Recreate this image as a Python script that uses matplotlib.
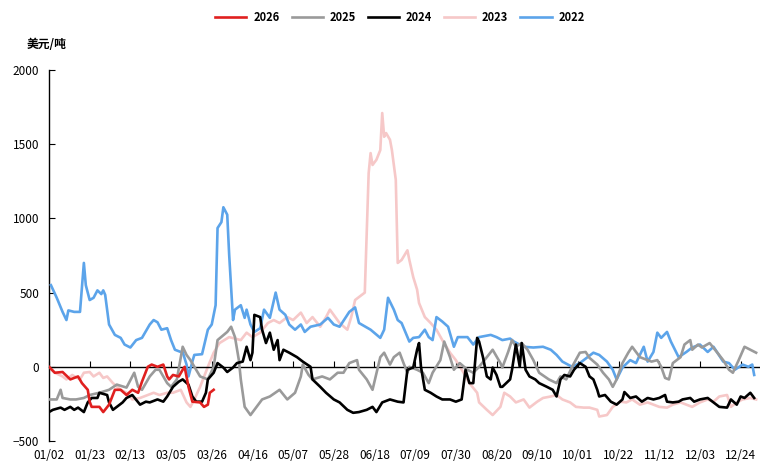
"""Year-over-year spread chart, 2022-2026 (USD/t)."""
import matplotlib
matplotlib.use("Agg")
import matplotlib.pyplot as plt

plt.rcParams['font.family'] = ['Noto Sans CJK SC', 'DejaVu Sans']

# x = days since 01/02 (leap-year calendar), y = USD/t
tick_labels = ['01/02', '01/23', '02/13', '03/05', '03/26', '04/16', '05/07',
               '05/28', '06/18', '07/09', '07/30', '08/20', '09/10', '10/01',
               '10/22', '11/12', '12/03', '12/24']

days_2026 = [0, 3, 7, 11, 15, 17, 20, 21, 22, 26, 28, 31, 34, 37, 40, 43, 46,
             48, 51, 53, 56, 59, 61, 62, 64, 67, 69, 70, 72, 74, 78, 80, 82,
             83, 85]
vals_2026 = [0, -40, -35, -85, -65, -110, -155, -235, -270, -270, -305, -255,
             -155, -155, -190, -155, -175, -100, 0, 15, 0, 15, -65, -85, -55,
             -65, -20, 0, -135, -235, -240, -270, -255, -175, -155]

days_2025 = [0, 4, 6, 7, 11, 14, 18, 21, 26, 31, 35, 40, 43, 44, 46, 48, 52,
             55, 57, 59, 61, 63, 66, 69, 71, 73, 78, 82, 85, 87, 92, 94, 96,
             98, 99, 101, 104, 106, 110, 114, 119, 123, 127, 130, 131, 134,
             136, 141, 145, 149, 152, 155, 159, 160, 164, 167, 171, 173, 176,
             178, 181, 183, 185, 186, 190, 193, 196, 198, 202, 204, 207, 209,
             212, 216, 219, 222, 226, 229, 233, 234, 237, 239, 241, 244, 247,
             250, 253, 258, 262, 264, 267, 270, 274, 277, 279, 283, 286, 289,
             291, 293, 296, 299, 301, 305, 309, 311, 314, 316, 318, 320, 322,
             326, 328, 331, 332, 335, 337, 341, 345, 348, 351, 353, 356, 359,
             362, 365]
vals_2025 = [-220, -220, -155, -210, -220, -220, -210, -190, -175, -155, -120,
             -140, -65, -40, -135, -155, -65, -20, -20, -65, -110, -135, -85,
             135, 80, 45, -65, -85, 0, 180, 235, 270, 200, 45, -85, -270, -325,
             -290, -220, -200, -155, -220, -175, -65, 15, -55, -85, -65, -85,
             -40, -40, 25, 45, -20, -85, -155, 65, 95, 15, 65, 95, 25, -40, 0,
             -20, -40, -110, -40, 45, 170, 65, -20, 25, -20, -40, 0, 65, 115,
             25, -5, 100, 180, 135, 160, 115, 45, -40, -85, -110, -65, -85, 0,
             95, 100, 60, 15, -40, -85, -135, -85, 25, 95, 135, 65, 45, 35, 45,
             0, -75, -85, 25, 65, 150, 180, 115, 150, 130, 160, 95, 45, -20,
             -40, 45, 135, 115, 95]

days_2024 = [0, 2, 6, 8, 11, 13, 15, 18, 20, 22, 25, 26, 30, 31, 33, 35, 38,
             40, 43, 47, 50, 52, 56, 59, 61, 64, 67, 69, 72, 74, 76, 79, 81,
             82, 85, 87, 90, 92, 95, 97, 100, 102, 104, 105, 106, 109, 110,
             112, 114, 116, 118, 119, 121, 124, 128, 131, 135, 136, 140, 143,
             147, 150, 154, 157, 160, 164, 167, 169, 172, 176, 180, 183, 185,
             188, 190, 191, 192, 194, 197, 200, 203, 207, 210, 213, 215, 217,
             219, 221, 222, 224, 226, 228, 229, 231, 233, 234, 238, 239, 241,
             243, 244, 246, 248, 251, 253, 257, 260, 262, 264, 266, 269, 271,
             274, 277, 279, 281, 283, 284, 287, 290, 293, 296, 297, 300, 303,
             306, 309, 312, 315, 318, 319, 322, 325, 327, 331, 333, 336, 340,
             343, 346, 350, 352, 355, 357, 359, 362, 364]
vals_2024 = [-305, -290, -275, -290, -270, -290, -275, -305, -240, -210, -210,
             -175, -190, -240, -290, -270, -240, -210, -190, -255, -235, -240,
             -220, -235, -200, -135, -100, -85, -120, -200, -235, -235, -175,
             -85, -40, 25, -5, -35, -5, 25, 35, 135, 45, 95, 350, 335, 250,
             160, 230, 115, 180, 45, 115, 95, 65, 35, 0, -85, -135, -175, -220,
             -240, -290, -310, -305, -290, -270, -305, -240, -220, -235, -240,
             -20, -5, 115, 160, 0, -155, -175, -200, -220, -220, -235, -220,
             -20, -110, -110, 195, 170, 65, -65, -85, -5, -55, -135, -135, -85,
             -20, 150, 0, 160, -20, -65, -85, -110, -135, -155, -200, -85, -55,
             -65, -20, 25, 0, -65, -85, -155, -200, -190, -235, -255, -220,
             -170, -210, -200, -235, -210, -220, -210, -190, -235, -240, -235,
             -220, -210, -235, -220, -210, -240, -270, -275, -220, -255, -200,
             -210, -175, -210]

days_2023 = [0, 3, 7, 9, 12, 16, 18, 21, 23, 26, 28, 30, 33, 37, 40, 43, 47,
             51, 54, 57, 61, 64, 68, 71, 73, 75, 78, 82, 85, 88, 93, 99, 102,
             105, 109, 113, 116, 119, 123, 126, 130, 133, 136, 140, 143, 145,
             150, 154, 156, 158, 160, 163, 165, 166, 167, 169, 171, 172, 173,
             174, 176, 177, 179, 180, 182, 185, 186, 188, 190, 191, 194, 197,
             200, 203, 207, 210, 214, 217, 221, 222, 226, 229, 233, 235, 238,
             241, 245, 248, 252, 255, 259, 262, 265, 269, 272, 276, 279, 283,
             284, 288, 291, 295, 298, 301, 305, 309, 312, 315, 319, 322, 326,
             329, 332, 336, 340, 343, 346, 350, 352, 355, 358, 362, 365]
vals_2023 = [0, -40, -65, -85, -55, -85, -40, -35, -65, -40, -75, -65, -110,
             -155, -175, -220, -210, -190, -175, -190, -175, -175, -155, -240,
             -270, -220, -135, 0, 95, 160, 200, 180, 230, 200, 230, 295, 315,
             295, 335, 315, 365, 295, 335, 270, 335, 385, 295, 250, 335, 450,
             470, 500, 1305, 1440, 1360, 1395, 1460, 1710, 1550, 1575, 1530,
             1460, 1260, 700, 720, 785, 720, 605, 520, 430, 335, 295, 250, 180,
             95, 45, -40, -110, -175, -240, -290, -325, -270, -175, -200, -240,
             -220, -275, -235, -210, -200, -190, -220, -240, -270, -275, -275,
             -290, -335, -325, -270, -235, -240, -220, -255, -240, -255, -270,
             -275, -255, -240, -255, -270, -240, -220, -235, -200, -190, -270,
             -240, -220, -210, -220]

days_2022 = [1, 4, 7, 9, 10, 13, 16, 18, 19, 21, 23, 25, 27, 28, 29, 31, 34,
             37, 39, 42, 45, 48, 52, 54, 56, 58, 61, 63, 65, 68, 69, 71, 72,
             74, 75, 79, 82, 84, 86, 87, 89, 90, 92, 93, 95, 96, 99, 101, 102,
             104, 106, 109, 111, 114, 117, 119, 122, 124, 127, 130, 132, 135,
             140, 144, 147, 150, 155, 158, 160, 166, 171, 173, 175, 178, 180,
             182, 186, 188, 191, 194, 196, 198, 200, 203, 206, 209, 211, 216,
             219, 222, 228, 231, 234, 238, 240, 245, 250, 255, 259, 262, 265,
             270, 274, 278, 281, 284, 288, 291, 293, 296, 300, 303, 307, 309,
             312, 314, 316, 319, 321, 325, 329, 332, 336, 340, 343, 348, 351,
             354, 358, 361, 363, 364]
vals_2022 = [550, 465, 370, 315, 380, 370, 370, 700, 550, 450, 465, 515, 490,
             515, 485, 285, 215, 195, 150, 130, 180, 195, 285, 315, 300, 250,
             260, 180, 115, 100, 100, 15, -65, 35, 80, 85, 250, 285, 415, 935,
             975, 1075, 1025, 755, 315, 385, 415, 330, 385, 285, 235, 260, 385,
             330, 500, 385, 350, 285, 250, 285, 235, 270, 285, 330, 285, 270,
             370, 400, 295, 250, 195, 250, 465, 385, 315, 295, 170, 195, 200,
             250, 200, 180, 335, 305, 270, 135, 200, 200, 150, 200, 215, 200,
             180, 190, 170, 135, 130, 135, 115, 80, 35, 0, 25, 65, 95, 80, 35,
             -20, -85, -5, 45, 25, 135, 35, 100, 230, 195, 235, 170, 65, 100,
             130, 150, 100, 135, 35, 25, -20, 15, 0, 15, -55]

series = [
    ('2026', days_2026, vals_2026, '#e0201f', 6),
    ('2025', days_2025, vals_2025, '#9a9a9a', 4),
    ('2024', days_2024, vals_2024, '#000000', 5),
    ('2023', days_2023, vals_2023, '#f6c8c8', 2),
    ('2022', days_2022, vals_2022, '#5ca4ea', 3),
]

fig = plt.figure(figsize=(7.6, 4.63), dpi=100)
ax = fig.add_axes([49 / 760, 22 / 463, 711 / 760, 371 / 463])

for name, d, v, color, z in series:
    ax.plot(d, v, color=color, lw=1.9, label=name, zorder=z)

ax.set_xlim(0, 367)
ax.set_ylim(-500, 2000)
ax.set_yticks([-500, 0, 500, 1000, 1500, 2000])

# x axis line sits at zero, labels stay at the bottom
ax.spines['top'].set_visible(False)
ax.spines['right'].set_visible(False)
ax.spines['bottom'].set_position(('data', 0))
ax.spines['bottom'].set_linewidth(1.0)
ax.spines['left'].set_linewidth(1.0)
ax.set_xticks(range(0, 358, 21))
ax.tick_params(axis='x', direction='in', length=4, labelbottom=False)
ax.tick_params(axis='y', direction='in', length=4, pad=7, labelsize=8.5)

sec = ax.secondary_xaxis('bottom')
sec.set_xticks(range(0, 358, 21), tick_labels)
sec.tick_params(length=0, pad=6, labelsize=8.5)
sec.spines['bottom'].set_visible(False)

fig.text(27 / 760, 1 - 45 / 463, '美元/吨', fontsize=8.5, fontweight='bold',
         va='center', ha='left')

fig.legend(loc='upper center', bbox_to_anchor=(400 / 760, 0.998), ncol=5,
           frameon=False, handlelength=2.8, handletextpad=0.6,
           columnspacing=1.1, prop={'size': 8, 'weight': 'bold'})

fig.savefig('out.png', dpi=100)
